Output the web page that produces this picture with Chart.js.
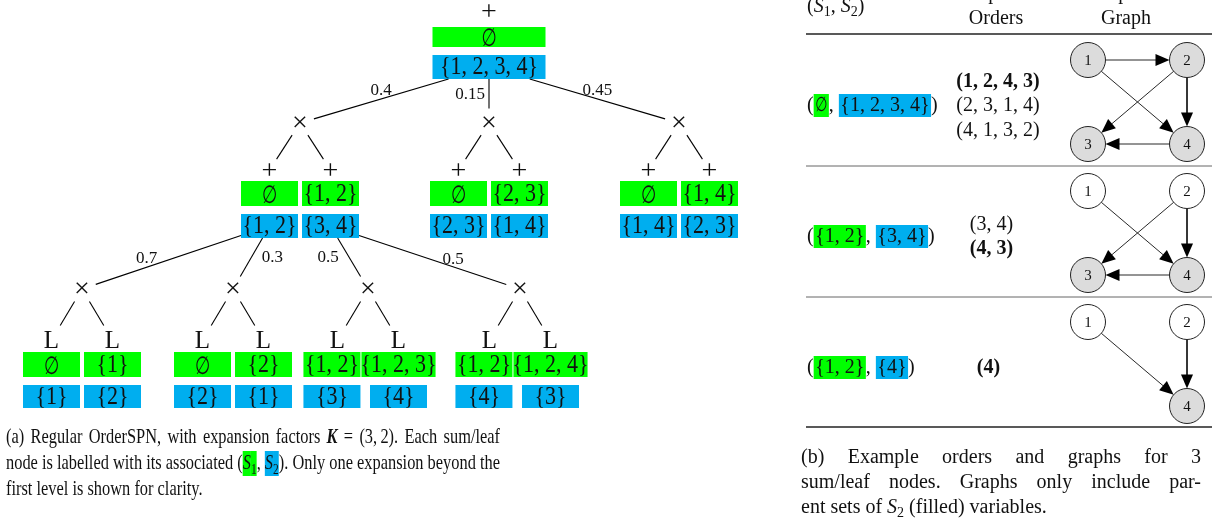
<!DOCTYPE html>
<html>
<head>
<meta charset="utf-8">
<script src="https://cdn.jsdelivr.net/npm/chart.js@4.4.1/dist/chart.umd.min.js"></script>
<style>
  html, body { margin: 0; padding: 0; background: #fff; }
  #wrap { width: 1212px; height: 525px; position: relative; }
</style>
</head>
<body>
<div id="wrap"><canvas id="c"></canvas></div>
<script>
// ===== OrderSPN tree (left panel) =====
const rootS1 = '∅';
const rootS2 = '{1, 2, 3, 4}';
const rootWeights = [0.4, 0.15, 0.45];
const sumS1 = ['∅', '{1, 2}', '∅', '{2, 3}', '∅', '{1, 4}'];
const sumS2 = ['{1, 2}', '{3, 4}', '{2, 3}', '{1, 4}', '{1, 4}', '{2, 3}'];
const expandedWeights = [0.7, 0.3, 0.5, 0.5];
const leafS1 = ['∅', '{1}', '∅', '{2}', '{1, 2}', '{1, 2, 3}', '{1, 2}', '{1, 2, 4}'];
const leafS2 = ['{1}', '{2}', '{2}', '{1}', '{3}', '{4}', '{4}', '{3}'];

// ===== Example orders / graphs table (right panel) =====
const tableS1 = ['∅', '{1, 2}', '{1, 2}'];
const tableS2 = ['{1, 2, 3, 4}', '{3, 4}', '{4}'];
const tableOrders = [
  ['(1, 2, 4, 3)', '(2, 3, 1, 4)', '(4, 1, 3, 2)'],
  ['(3, 4)', '(4, 3)'],
  ['(4)']
];
const tableChosenOrder = [0, 1, 0];
const tableEdges = [
  [[1, 2], [1, 4], [2, 3], [2, 4], [4, 3]],
  [[1, 4], [2, 3], [2, 4], [4, 3]],
  [[1, 4], [2, 4]]
];

// ===== drawing setup =====
const W = 1212, H = 525;
const GREEN = '#00ff00', BLUE = '#00aeef', INK = '#111';
const SERIF = '"Liberation Serif", "Times New Roman", serif';
const EMPTY_FAMILY = '"DejaVu Serif", "DejaVu Sans", serif';
const EMPTY_SX = 0.7;
const SET_SIZE = 25, SET_SX = 0.88;

const TREE = {
  rootX: 489,
  levels: {
    root: { symY: 11, green: [27, 47], blue: [55, 79] },
    mid:  { symY: 170, green: [181, 206], blue: [214, 238] },
    leaf: { symY: 340, green: [352, 377], blue: [385, 408] }
  },
  rootBoxW: 113, boxW: 57,
  prodY1: 123, prodDX1: [-189, 0, 190],
  prodY2: 289, prodDX2: [-218, -67, 68, 220],
  sumDX: 30.5, leafDX: 30.5,
  symR: { '+': 13, 'L': 17 }, prodR: 14.5,
  rootLabelPos: [{ t: 0.5, dx: 0, dy: -8 }, { t: 0.5, dx: -19, dy: 1 }, { t: 0.5, dx: 0, dy: -8 }],
  expLabelPos: [{ t: 0.65, dx: 0, dy: -9 }, { t: 0.5, dx: 21, dy: 0 }, { t: 0.5, dx: -21, dy: 0 }, { t: 0.64, dx: 0, dy: -7 }]
};

const TABLE = {
  labelX: 807, rowBase: [111, 242, 373], orderCX: [998, 991.5, 988.5], lineGap: 24.5,
  graphX: [1088, 1187], graphTop: [60, 191, 322], graphDY: 84, nodeR: 17.5,
  ruleX: [806, 1212], ruleY: [34, 166, 297, 427], ruleW: [1.4, 0.9, 0.9, 1.4], ruleC: ['#222', '#555', '#555', '#222'],
  headerCX: [996, 1126]
};
const ARROW_LEN = 14, ARROW_HALF = 6;

const meas = document.createElement('canvas').getContext('2d');
function fontOf(size, style, weight) { return `${style || ''} ${weight || ''} ${size}px ${SERIF}`.trim(); }
function measureSet(s, size) {
  if (s === '∅') { meas.font = `${size}px ${EMPTY_FAMILY}`; return meas.measureText(s).width * EMPTY_SX; }
  meas.font = fontOf(size); return meas.measureText(s).width * SET_SX;
}
function parseSet(s) { const m = s.match(/\d+/g); return m ? m.map(Number) : []; }

// ---- tree geometry (chart units) ----
const sums = [], prods = [], links = [];
function makeSum(x, level, s1, s2, sym, wide) {
  const L = TREE.levels[level];
  const gw = wide ? TREE.rootBoxW : Math.max(TREE.boxW, measureSet(s1, SET_SIZE) - 2);
  const bw = wide ? TREE.rootBoxW : Math.max(TREE.boxW, measureSet(s2, SET_SIZE) - 2);
  const n = { x, bx: x, sym, symY: L.symY, s1, s2, green: L.green, blue: L.blue, gw, bw };
  sums.push(n); return n;
}
function makeProd(x, y) { const p = { x, y }; prods.push(p); return p; }
function rectExit(cx, cy, hw, hh, tx, ty) {
  const dx = tx - cx, dy = ty - cy;
  const t = Math.min(dx ? hw / Math.abs(dx) : Infinity, dy ? hh / Math.abs(dy) : Infinity);
  return [cx + t * dx, cy + t * dy];
}
function toward(ax, ay, bx, by, r) { const dx = bx - ax, dy = by - ay, d = Math.hypot(dx, dy); return [ax + dx / d * r, ay + dy / d * r]; }
function linkSumToProd(s, p, weight, pos) {
  const cy = (s.blue[0] + s.blue[1]) / 2, hh = (s.blue[1] - s.blue[0]) / 2;
  const a = rectExit(s.bx, cy, s.bw / 2, hh, p.x, p.y);
  const b = toward(p.x, p.y, s.bx, cy, TREE.prodR);
  links.push({ a, b, label: String(weight), pos });
}
function linkProdToSum(p, s) {
  const a = toward(p.x, p.y, s.x, s.symY, TREE.prodR);
  const b = toward(s.x, s.symY, p.x, p.y, TREE.symR[s.sym]);
  links.push({ a, b });
}

const root = makeSum(TREE.rootX, 'root', rootS1, rootS2, '+', true);
const firstSums = [];
let firstProd = null;
rootWeights.forEach((w, i) => {
  const p = makeProd(TREE.rootX + TREE.prodDX1[i], TREE.prodY1);
  if (i === 0) firstProd = p;
  linkSumToProd(root, p, w, TREE.rootLabelPos[i]);
  [-1, 1].forEach((side, j) => {
    const k = 2 * i + j;
    const s = makeSum(p.x + side * TREE.sumDX, 'mid', sumS1[k], sumS2[k], '+');
    linkProdToSum(p, s);
    if (i === 0) firstSums.push(s);
  });
});
// one expansion below the first product node
expandedWeights.forEach((w, k) => {
  const parent = firstSums[Math.floor(k / 2)];
  const p = makeProd(firstProd.x + TREE.prodDX2[k], TREE.prodY2);
  linkSumToProd(parent, p, w, TREE.expLabelPos[k]);
  const pair = [-1, 1].map((side, m) => {
    const idx = 2 * k + m;
    const s = makeSum(p.x + side * TREE.leafDX, 'leaf', leafS1[idx], leafS2[idx], 'L');
    linkProdToSum(p, s);
    return s;
  });
  // keep the two leaf box stacks from overlapping when a set label is wide
  const overlap = (pair[0].bx + pair[0].gw / 2) - (pair[1].bx - pair[1].gw / 2 - 1);
  if (overlap > 0) pair[0].bx -= overlap;
});

// ---- table graphs ----
const graphNodes = [], arrowHeads = [];
function nodePos(r, v) { return [TABLE.graphX[(v - 1) % 2], TABLE.graphTop[r] + Math.floor((v - 1) / 2) * TABLE.graphDY]; }

// ---- datasets: tree edges, table rules, graph arcs ----
const datasets = [];
function seg(a, b, color, width) {
  datasets.push({ data: [{ x: a[0], y: a[1] }, { x: b[0], y: b[1] }], showLine: true, borderColor: color,
    borderWidth: width, pointRadius: 0, pointHoverRadius: 0, fill: false, tension: 0 });
}
links.forEach(l => seg(l.a, l.b, '#000', 1.1));
TABLE.ruleY.forEach((y, i) => seg([TABLE.ruleX[0], y], [TABLE.ruleX[1], y], TABLE.ruleC[i], TABLE.ruleW[i]));
tableS1.forEach((s1, r) => {
  const filled = parseSet(tableS2[r]);
  const vars = Array.from(new Set(parseSet(s1).concat(filled))).sort((a, b) => a - b);
  vars.forEach(v => graphNodes.push({ r, v, pos: nodePos(r, v), filled: filled.includes(v) }));
  tableEdges[r].forEach(([u, v]) => {
    const pu = nodePos(r, u), pv = nodePos(r, v);
    const a = toward(pu[0], pu[1], pv[0], pv[1], TABLE.nodeR);
    const tip = toward(pv[0], pv[1], pu[0], pu[1], TABLE.nodeR);
    const base = toward(tip[0], tip[1], a[0], a[1], ARROW_LEN - 2);
    seg(a, base, '#111', 0.9);
    arrowHeads.push({ tip, from: a });
  });
});

// ---- rich text lines (captions, labels) ----
function words(str, opts) { return str.split(' ').map(w => [Object.assign({ t: w }, opts || {})]); }
function runFont(run, size) {
  const s = run.sub ? size * 0.7 : size;
  return fontOf(s, run.style, run.weight);
}
function runWidth(ctx, run, size) {
  if (run.t === '∅') { ctx.font = `${size}px ${EMPTY_FAMILY}`; return ctx.measureText('∅').width * EMPTY_SX + 2 * (run.pad || 0); }
  ctx.font = runFont(run, size); return ctx.measureText(run.t).width + 2 * (run.pad || 0);
}
function wordWidth(ctx, word, size) { return word.reduce((s, r) => s + runWidth(ctx, r, size), 0); }
function naturalWidth(ctx, line, size) {
  ctx.font = fontOf(size);
  const sp = ctx.measureText(' ').width;
  return line.reduce((s, w) => s + wordWidth(ctx, w, size), 0) + sp * (line.length - 1);
}
function drawLine(ctx, line, x, base, o) {
  const size = o.size, sx = o.sx || 1;
  ctx.font = fontOf(size);
  const sp = ctx.measureText(' ').width;
  let gap = sp;
  if (o.width && line.length > 1) {
    const sumW = line.reduce((s, w) => s + wordWidth(ctx, w, size), 0);
    gap = (o.width / sx - sumW) / (line.length - 1);
  }
  ctx.save();
  ctx.translate(x, 0);
  ctx.scale(sx, 1);
  ctx.textAlign = 'left'; ctx.textBaseline = 'alphabetic';
  let cx = 0;
  line.forEach((word, wi) => {
    word.forEach(run => {
      const w = runWidth(ctx, run, size);
      if (run.bg) { ctx.fillStyle = run.bg; ctx.fillRect(cx, base - o.bgAsc, w, o.bgH); }
      ctx.fillStyle = INK;
      const pad = run.pad || 0;
      const dy = run.sub ? size * 0.22 : 0;
      if (run.t === '∅') {
        ctx.save(); ctx.translate(cx + pad, base + dy); ctx.scale(EMPTY_SX, 1);
        ctx.font = `${size}px ${EMPTY_FAMILY}`; ctx.fillText('∅', 0, 0); ctx.restore();
      } else {
        ctx.font = runFont(run, size); ctx.fillText(run.t, cx + pad, base + dy);
      }
      cx += w;
    });
    if (wi < line.length - 1) cx += gap;
  });
  ctx.restore();
}

function drawSetText(ctx, s, cx, cy, size) {
  ctx.fillStyle = INK;
  ctx.textAlign = 'center'; ctx.textBaseline = 'alphabetic';
  ctx.save();
  if (s === '∅') {
    ctx.translate(cx, cy + size * 0.37); ctx.scale(EMPTY_SX, 1);
    ctx.font = `${size}px ${EMPTY_FAMILY}`; ctx.fillText('∅', 0, 0);
  } else {
    ctx.translate(cx, cy + size * 0.29); ctx.scale(SET_SX, 1);
    ctx.font = fontOf(size); ctx.fillText(s, 0, 0);
  }
  ctx.restore();
}

// ---- captions ----
const captionA = [
  [...words('(a) Regular OrderSPN, with expansion factors'), [{ t: 'K', style: 'italic', weight: 'bold' }], [{ t: '=' }],
   [{ t: '(3,\u20092).' }], ...words('Each sum/leaf')],
  [...words('node is labelled with its associated'),
   [{ t: '(' }, { t: 'S', style: 'italic', bg: GREEN }, { t: '1', sub: true, bg: GREEN }, { t: ',' }],
   [{ t: 'S', style: 'italic', bg: BLUE }, { t: '2', sub: true, bg: BLUE }, { t: ').' }],
   ...words('Only one expansion beyond the')],
  words('first level is shown for clarity.')
];
const captionB = [
  words('(b) Example orders and graphs for 3'),
  words('sum/leaf nodes. Graphs only include par-'),
  [...words('ent sets of'), [{ t: 'S', style: 'italic' }, { t: '2', sub: true }], ...words('(filled) variables.')]
];
const CAPTION = {
  a: { x: 6, width: 494, base: [443, 469, 495], size: 22 },
  b: { x: 801, width: 400, base: [463, 488, 513], size: 20 }
};

const diagram = {
  id: 'orderspnDiagram',
  beforeDatasetsDraw(chart) {
    const ctx = chart.ctx, X = chart.scales.x, Y = chart.scales.y;
    const px = v => X.getPixelForValue(v), py = v => Y.getPixelForValue(v);
    ctx.save();
    sums.forEach(s => {
      ctx.fillStyle = GREEN;
      ctx.fillRect(px(s.bx - s.gw / 2), py(s.green[0]), px(s.bx + s.gw / 2) - px(s.bx - s.gw / 2), py(s.green[1]) - py(s.green[0]));
      ctx.fillStyle = BLUE;
      ctx.fillRect(px(s.bx - s.bw / 2), py(s.blue[0]), px(s.bx + s.bw / 2) - px(s.bx - s.bw / 2), py(s.blue[1]) - py(s.blue[0]));
    });
    ctx.restore();
  },
  afterDatasetsDraw(chart) {
    const ctx = chart.ctx, X = chart.scales.x, Y = chart.scales.y;
    const px = v => X.getPixelForValue(v), py = v => Y.getPixelForValue(v);
    ctx.save();
    ctx.fillStyle = INK;
    // sum / leaf nodes
    sums.forEach(s => {
      ctx.textAlign = 'center'; ctx.textBaseline = 'alphabetic'; ctx.fillStyle = INK;
      if (s.sym === '+') { ctx.font = fontOf(28); ctx.fillText('+', px(s.x), py(s.symY) + 8.5); }
      else { ctx.font = fontOf(25); ctx.fillText('L', px(s.x), py(s.symY) + 8); }
      drawSetText(ctx, s.s1, px(s.bx), py((s.green[0] + s.green[1]) / 2), SET_SIZE);
      drawSetText(ctx, s.s2, px(s.bx), py((s.blue[0] + s.blue[1]) / 2), SET_SIZE);
    });
    // product nodes
    prods.forEach(p => {
      ctx.textAlign = 'center'; ctx.textBaseline = 'alphabetic'; ctx.fillStyle = INK;
      ctx.font = fontOf(28); ctx.fillText('×', px(p.x), py(p.y) + 8);
    });
    // edge weights
    links.forEach(l => {
      if (!l.label) return;
      const t = l.pos.t;
      const lx = l.a[0] + (l.b[0] - l.a[0]) * t + l.pos.dx;
      const ly = l.a[1] + (l.b[1] - l.a[1]) * t + l.pos.dy;
      ctx.font = fontOf(17); ctx.textAlign = 'center'; ctx.textBaseline = 'middle'; ctx.fillStyle = INK;
      ctx.fillText(l.label, px(lx), py(ly));
    });

    // table header
    drawLine(ctx, [[{ t: '(' }, { t: 'S', style: 'italic' }, { t: '1', sub: true }, { t: ', ' }, { t: 'S', style: 'italic' }, { t: '2', sub: true }, { t: ')' }]],
      px(TABLE.labelX), py(12), { size: 20 });
    ctx.fillStyle = INK; ctx.textAlign = 'center'; ctx.textBaseline = 'alphabetic'; ctx.font = fontOf(20);
    ['Orders', 'Graph'].forEach((h, i) => {
      ctx.fillText('Compatible', px(TABLE.headerCX[i]), py(-1));
      ctx.fillText(h, px(TABLE.headerCX[i]), py(24));
    });
    // table rows
    tableS1.forEach((s1, r) => {
      const base = TABLE.rowBase[r];
      drawLine(ctx, [[{ t: '(' }, { t: s1, bg: GREEN, pad: 1.5 }, { t: ', ' }, { t: tableS2[r], bg: BLUE, pad: 1.5 }, { t: ')' }]],
        px(TABLE.labelX), py(base), { size: 20, bgAsc: 17, bgH: 23 });
      const orders = tableOrders[r], n = orders.length;
      orders.forEach((o, i) => {
        ctx.fillStyle = INK; ctx.textAlign = 'center'; ctx.textBaseline = 'alphabetic';
        ctx.font = fontOf(20, '', i === tableChosenOrder[r] ? 'bold' : '');
        ctx.fillText(o, px(TABLE.orderCX[r]), py(base + (i - (n - 1) / 2) * TABLE.lineGap));
      });
    });
    // graph arrowheads
    arrowHeads.forEach(h => {
      const tip = h.tip, dx = tip[0] - h.from[0], dy = tip[1] - h.from[1], d = Math.hypot(dx, dy);
      const ux = dx / d, uy = dy / d;
      const bx = tip[0] - ux * ARROW_LEN, by = tip[1] - uy * ARROW_LEN;
      ctx.beginPath();
      ctx.moveTo(px(tip[0]), py(tip[1]));
      ctx.lineTo(px(bx - uy * ARROW_HALF), py(by + ux * ARROW_HALF));
      ctx.lineTo(px(bx + uy * ARROW_HALF), py(by - ux * ARROW_HALF));
      ctx.closePath();
      ctx.fillStyle = '#000'; ctx.fill();
    });
    // graph nodes
    graphNodes.forEach(g => {
      const cx = px(g.pos[0]), cy = py(g.pos[1]);
      const rr = px(g.pos[0] + TABLE.nodeR) - cx;
      ctx.beginPath(); ctx.arc(cx, cy, rr, 0, Math.PI * 2);
      ctx.fillStyle = g.filled ? '#dcdcdc' : '#fff'; ctx.fill();
      ctx.lineWidth = 1; ctx.strokeStyle = '#222'; ctx.stroke();
      ctx.fillStyle = INK; ctx.font = fontOf(15); ctx.textAlign = 'center'; ctx.textBaseline = 'alphabetic';
      ctx.fillText(String(g.v), cx, cy + 5);
    });

    // captions
    const A = CAPTION.a;
    const wA = px(A.x + A.width) - px(A.x);
    const sxA = Math.min(wA / naturalWidth(ctx, captionA[0], A.size), wA / naturalWidth(ctx, captionA[1], A.size));
    captionA.forEach((line, i) => {
      drawLine(ctx, line, px(A.x), py(A.base[i]), { size: A.size, sx: sxA, width: i < 2 ? wA : null, bgAsc: 18, bgH: 25 });
    });
    const B = CAPTION.b;
    captionB.forEach((line, i) => {
      drawLine(ctx, line, px(B.x), py(B.base[i]), { size: B.size, width: i < 2 ? px(B.x + B.width) - px(B.x) : null, bgAsc: 18, bgH: 25 });
    });
    ctx.restore();
  }
};

new Chart(document.getElementById('c'), {
  type: 'scatter',
  data: { datasets },
  options: {
    responsive: true, maintainAspectRatio: false, animation: false, events: [],
    layout: { padding: 0 },
    plugins: { legend: { display: false }, tooltip: { enabled: false } },
    scales: {
      x: { type: 'linear', min: 0, max: W, display: false },
      y: { type: 'linear', min: 0, max: H, reverse: true, display: false }
    }
  },
  plugins: [diagram]
});
</script>
</body>
</html>
